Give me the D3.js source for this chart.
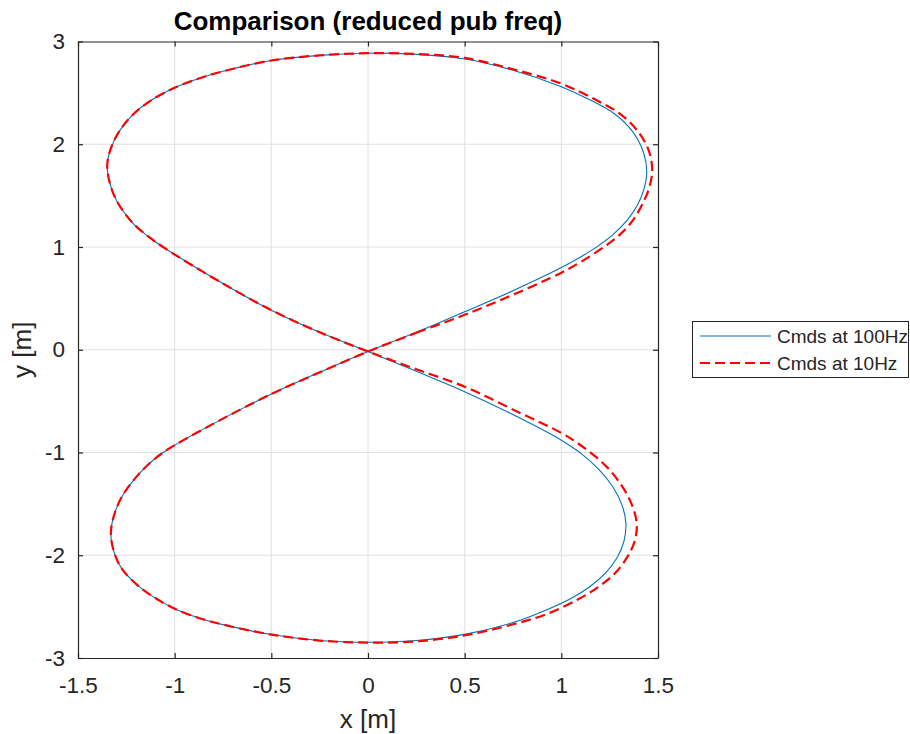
<!DOCTYPE html>
<html>
<head>
<meta charset="utf-8">
<script src="https://cdn.jsdelivr.net/npm/d3@7"></script>
<style>
  html, body { margin: 0; padding: 0; background: #fff; }
  svg { display: block; font-family: "Liberation Sans", Arial, Helvetica, sans-serif; }
</style>
</head>
<body>
<svg id="chart" width="910" height="734"></svg>
<script>
// ---- data, in path order ----
const blueX = [0, 0.25, 0.5, 0.75, 1.0, 1.15, 1.264, 1.341, 1.393, 1.427, 1.442, 1.425, 1.37, 1.28, 1.15, 1.0, 0.75, 0.5, 0.25,
               0, -0.25, -0.5, -0.75, -0.875, -1.0, -1.12, -1.215, -1.285, -1.33, -1.349, -1.335, -1.30, -1.22, -1.135, -1.06, -0.96, -0.76, -0.5, -0.25,
               0, 0.25, 0.5, 0.78, 1.0, 1.103, 1.195, 1.266, 1.313, 1.334, 1.324, 1.288, 1.229, 1.147, 1.04, 0.88, 0.75, 0.5, 0.25,
               0, -0.25, -0.5, -0.75, -0.875, -1.0, -1.11, -1.19, -1.27, -1.308, -1.33, -1.315, -1.27, -1.19, -1.115, -1.04, -0.95, -0.76, -0.5, -0.25];
const blueY = [-0.017, 0.17, 0.37, 0.575, 0.80, 0.96, 1.116, 1.262, 1.406, 1.561, 1.727, 1.92, 2.12, 2.29, 2.43, 2.56, 2.72, 2.83, 2.875,
               2.886, 2.865, 2.815, 2.71, 2.64, 2.55, 2.43, 2.29, 2.13, 1.96, 1.79, 1.62, 1.45, 1.24, 1.10, 1.0, 0.88, 0.655, 0.385, 0.17,
               -0.017, -0.21, -0.408, -0.66, -0.88, -1.011, -1.167, -1.334, -1.507, -1.688, -1.862, -2.024, -2.172, -2.306, -2.43, -2.565, -2.655, -2.77, -2.83,
               -2.847, -2.83, -2.772, -2.675, -2.61, -2.52, -2.405, -2.295, -2.14, -2.0, -1.80, -1.62, -1.42, -1.22, -1.08, -0.975, -0.875, -0.68, -0.43, -0.22];

const redX = [0, 0.25, 0.5, 0.75, 1.0, 1.105, 1.22, 1.30, 1.37, 1.42, 1.455, 1.47, 1.45, 1.39, 1.30, 1.18, 1.0, 0.75, 0.5, 0.25,
              0, -0.25, -0.5, -0.75, -0.875, -1.0, -1.12, -1.215, -1.285, -1.33, -1.349, -1.335, -1.30, -1.22, -1.135, -1.06, -0.96, -0.76, -0.5, -0.25,
              0, 0.25, 0.5, 0.786, 1.0, 1.115, 1.235, 1.315, 1.365, 1.39, 1.38, 1.34, 1.28, 1.195, 1.085, 0.92, 0.75, 0.5, 0.25,
              0, -0.25, -0.5, -0.75, -0.875, -1.0, -1.11, -1.19, -1.27, -1.308, -1.33, -1.315, -1.27, -1.19, -1.115, -1.04, -0.95, -0.76, -0.5, -0.25];
const redY = [-0.017, 0.165, 0.34, 0.535, 0.75, 0.86, 1.0, 1.115, 1.26, 1.42, 1.58, 1.75, 1.95, 2.14, 2.30, 2.43, 2.59, 2.73, 2.84, 2.878,
              2.886, 2.865, 2.815, 2.71, 2.64, 2.55, 2.43, 2.29, 2.13, 1.96, 1.79, 1.62, 1.45, 1.24, 1.10, 1.0, 0.88, 0.655, 0.385, 0.17,
              -0.017, -0.19, -0.36, -0.615, -0.81, -0.95, -1.14, -1.33, -1.51, -1.69, -1.86, -2.02, -2.17, -2.305, -2.43, -2.575, -2.672, -2.78, -2.838,
              -2.85, -2.83, -2.772, -2.675, -2.61, -2.52, -2.405, -2.295, -2.14, -2.0, -1.80, -1.62, -1.42, -1.22, -1.08, -0.975, -0.875, -0.68, -0.43, -0.22];

const seriesNames = ["Cmds at 100Hz", "Cmds at 10Hz"];
const xTicks = [-1.5, -1, -0.5, 0, 0.5, 1, 1.5];
const yTicks = [-3, -2, -1, 0, 1, 2, 3];
const titleText = "Comparison (reduced pub freq)";
const xLabel = "x [m]";
const yLabel = "y [m]";

// ---- layout ----
const L = 78, R = 658, T = 41.5, B = 658;
const axisColor = "#262626";
const svg = d3.select("#chart");

const x = d3.scaleLinear().domain([-1.5, 1.5]).range([L, R]);
const y = d3.scaleLinear().domain([-3, 3]).range([B, T]);

// grid
const grid = svg.append("g");
grid.selectAll("line.gx").data(xTicks.slice(1, -1)).join("line")
  .attr("x1", d => x(d)).attr("x2", d => x(d)).attr("y1", T).attr("y2", B)
  .attr("stroke", "#e0e0e0").attr("stroke-width", 1);
grid.selectAll("line.gy").data(yTicks.slice(1, -1)).join("line")
  .attr("y1", d => y(d)).attr("y2", d => y(d)).attr("x1", L).attr("x2", R)
  .attr("stroke", "#e0e0e0").attr("stroke-width", 1);

// curves
const line = d3.line().x(d => x(d[0])).y(d => y(d[1])).curve(d3.curveCatmullRomClosed.alpha(0.5));
const blue = blueX.map((v, i) => [v, blueY[i]]);
const red = redX.map((v, i) => [v, redY[i]]);

svg.append("path").attr("d", line(blue)).attr("fill", "none")
  .attr("stroke", "#0072BD").attr("stroke-width", 1.1);
svg.append("path").attr("d", line(red)).attr("fill", "none")
  .attr("stroke", "#FF0000").attr("stroke-width", 2.2).attr("stroke-dasharray", "10,5");

// axes (box with inward ticks on all sides)
const fmt = d => String(d);
const tickFont = "22.5px";
const gx = svg.append("g").attr("transform", `translate(0,${B})`)
  .call(d3.axisBottom(x).tickValues(xTicks).tickFormat(fmt).tickSizeInner(-5).tickSizeOuter(0).tickPadding(19));
const gxTop = svg.append("g").attr("transform", `translate(0,${T})`)
  .call(d3.axisTop(x).tickValues(xTicks).tickFormat("").tickSizeInner(-5).tickSizeOuter(0));
const gy = svg.append("g").attr("transform", `translate(${L},0)`)
  .call(d3.axisLeft(y).tickValues(yTicks).tickFormat(fmt).tickSizeInner(-5).tickSizeOuter(0).tickPadding(13));
const gyR = svg.append("g").attr("transform", `translate(${R},0)`)
  .call(d3.axisRight(y).tickValues(yTicks).tickFormat("").tickSizeInner(-5).tickSizeOuter(0));

[gx, gxTop, gy, gyR].forEach(g => {
  g.selectAll(".domain").attr("stroke", axisColor).attr("stroke-width", 1.2);
  g.selectAll(".tick line").attr("stroke", axisColor).attr("stroke-width", 1.2);
  g.selectAll(".tick text").attr("fill", axisColor)
    .style("font-family", '"Liberation Sans", Arial, sans-serif').style("font-size", tickFont);
});

// labels
svg.append("text").attr("x", (L + R) / 2).attr("y", 30).attr("text-anchor", "middle")
  .attr("font-weight", "bold").attr("font-size", 26).attr("fill", "#000").text(titleText);
svg.append("text").attr("x", (L + R) / 2).attr("y", 728).attr("text-anchor", "middle")
  .attr("font-size", 26).attr("fill", axisColor).text(xLabel);
svg.append("text").attr("transform", `translate(31,${(T + B) / 2}) rotate(-90)`).attr("text-anchor", "middle")
  .attr("font-size", 26).attr("fill", axisColor).text(yLabel);

// legend
const lg = svg.append("g");
lg.append("rect").attr("x", 692.5).attr("y", 321.5).attr("width", 216).attr("height", 56)
  .attr("fill", "#fff").attr("stroke", axisColor).attr("stroke-width", 1);
const rows = [
  { name: seriesNames[0], color: "#0072BD", w: 1.1, dash: null, yy: 336 },
  { name: seriesNames[1], color: "#FF0000", w: 2.2, dash: "10,5", yy: 363 }
];
rows.forEach(r => {
  lg.append("line").attr("x1", 700).attr("x2", 771).attr("y1", r.yy).attr("y2", r.yy)
    .attr("stroke", r.color).attr("stroke-width", r.w).attr("stroke-dasharray", r.dash);
  lg.append("text").attr("x", 777).attr("y", r.yy + 7).attr("font-size", 19)
    .attr("fill", axisColor).text(r.name);
});
</script>
</body>
</html>
